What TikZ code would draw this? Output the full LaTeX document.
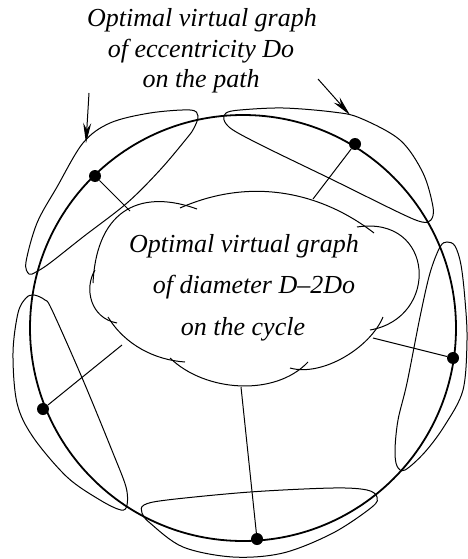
\documentclass[tikz,border=0pt]{standalone}
\usepackage{fontspec}
\setmainfont{Liberation Serif}
\usetikzlibrary{arrows.meta}
\tikzset{
	vtx/.style  ={circle, fill=black, inner sep=0pt, minimum size=12pt},
	ring/.style ={line width=1.8pt},
	% cloud arcs and the loops round the path pieces
	puff/.style ={line width=1pt},
	loopc/.style={line width=1pt, smooth cycle, tension=0.55},
	link/.style ={line width=1pt},
	ptr/.style  ={-{Stealth[length=20pt, width=8pt]}, line width=1pt},
	lbl/.style  ={font=\fontsize{26}{30}\selectfont\itshape, anchor=base, inner sep=0pt},
}

\begin{document}
\begin{tikzpicture}[x=1pt, y=-1pt]
					\useasboundingbox (0,0) rectangle (468,559);
					\draw[ring] (243,328) circle (213);
					% path loops
					\draw[loopc] plot coordinates {(29,274) (26,262) (37,223) (57,187) (83,143) (110,123) (150,113) (190,110) (198,116) (194,128) (187,138) (160,170) (127,203) (83,237) (50,263) (36,272)};
					\draw[loopc] plot coordinates {(226,113) (240,110) (283,108) (333,112) (360,118) (400,140) (423,173) (433,207) (431,220) (422,222) (400,213) (333,180) (267,148) (233,130) (224,120)};
					\draw[loopc] plot coordinates {(447,242) (455,246) (461,265) (465,300) (467,340) (463,390) (445,425) (425,452) (405,470) (397,466) (395,450) (398,420) (407,383) (420,317) (430,273) (440,247)};
					\draw[loopc] plot coordinates {(34,295) (45,300) (52,310) (83,380) (113,453) (126,487) (127,505) (121,510) (100,500) (67,477) (33,437) (17,403) (13,353) (18,313) (26,298)};
					\draw[loopc] plot coordinates {(144,505) (167,500) (250,492) (333,488) (367,490) (377,497) (372,507) (333,533) (283,553) (233,557) (183,547) (150,523) (142,513)};
					% cloud
					\draw[puff] (374,233) .. controls (325,195) and (255,175) .. (180,208);
					\draw[puff] (197,209) .. controls (145,190) and (97,205) .. (93,283);
					\draw[puff] (95,270) .. controls (84,288) and (90,318) .. (117,323);
					\draw[puff] (108,317) .. controls (125,345) and (155,360) .. (185,362);
					\draw[puff] (170,358) .. controls (205,392) and (275,397) .. (308,362);
					\draw[puff] (290,368) .. controls (322,377) and (370,348) .. (383,317);
					\draw[puff] (370,330) .. controls (440,318) and (435,215) .. (357,227);
					\coordinate (cA) at (130,211);
					\coordinate (cG) at (313,199);
					\coordinate (cE) at (373,338);
					\coordinate (cC) at (122,345);
					\coordinate (cD) at (241,387);
					% vertices on the cycle
					\node[vtx] (pNW) at (95,176) {};
					\node[vtx] (pNE) at (355,144) {};
					\node[vtx] (pE) at (453,358) {};
					\node[vtx] (pW) at (43,409) {};
					\node[vtx] (pS) at (257,539) {};
					\draw[link] (pNW) -- (cA);
					\draw[link] (pNE) -- (cG);
					\draw[link] (pE) -- (cE);
					\draw[link] (pW) -- (cC);
					\draw[link] (pS) -- (cD);
					\node[lbl] (ttl1) at (202,27) {Optimal virtual graph};
					\node[lbl] (ttl2) at (201,58) {of eccentricity Do};
					\node[lbl] (ttl3) at (201,88) {on the path};
					\node[lbl] (cld1) at (244,252) {Optimal virtual graph};
					\node[lbl] (cld2) at (254,293) {of diameter D--2Do};
					\node[lbl] (cld3) at (243,335) {on the cycle};
					\coordinate (ptrL) at (89,93);
					\coordinate (tipL) at (86,143);
					\coordinate (ptrR) at (318,79);
					\coordinate (tipR) at (350,115);
					\draw[ptr] (ptrL) -- (tipL);
					\draw[ptr] (ptrR) -- (tipR);
				\end{tikzpicture}
\end{document}
